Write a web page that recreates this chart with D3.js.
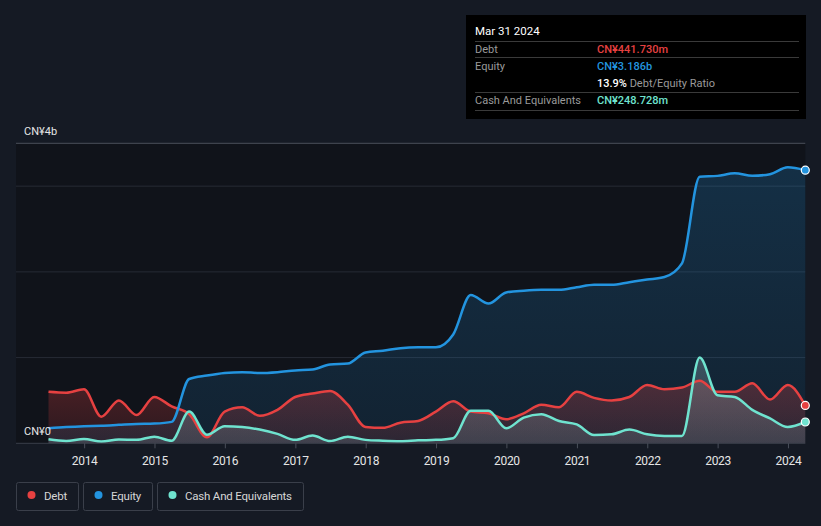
<!DOCTYPE html>
<html><head><meta charset="utf-8">
<script src="https://cdn.jsdelivr.net/npm/d3@7"></script>
<style>
html,body{margin:0;padding:0;background:#151a24;}
svg{display:block;}
</style></head>
<body><svg id="c" width="821" height="526"></svg>
<script>
const dates = ["2013-06-30","2013-09-30","2013-12-31","2014-03-31","2014-06-30","2014-09-30","2014-12-31","2015-03-31","2015-06-30","2015-09-30","2015-12-31","2016-03-31","2016-06-30","2016-09-30","2016-12-31","2017-03-31","2017-06-30","2017-09-30","2017-12-31","2018-03-31","2018-06-30","2018-09-30","2018-12-31","2019-03-31","2019-06-30","2019-09-30","2019-12-31","2020-03-31","2020-06-30","2020-09-30","2020-12-31","2021-03-31","2021-06-30","2021-09-30","2021-12-31","2022-03-31","2022-06-30","2022-09-30","2022-12-31","2023-03-31","2023-06-30","2023-09-30","2023-12-31","2024-03-31"];
// values in CN¥ billions
const debt = [0.60,0.59,0.63,0.31,0.50,0.33,0.54,0.43,0.34,0.07,0.37,0.42,0.32,0.39,0.54,0.58,0.61,0.45,0.19,0.18,0.24,0.26,0.37,0.49,0.37,0.35,0.28,0.35,0.45,0.42,0.60,0.53,0.50,0.54,0.68,0.63,0.65,0.73,0.60,0.60,0.70,0.51,0.68,0.4417];
const equity = [0.175,0.19,0.20,0.205,0.215,0.225,0.23,0.25,0.75,0.79,0.82,0.83,0.82,0.83,0.85,0.86,0.92,0.93,1.06,1.08,1.11,1.12,1.12,1.27,1.73,1.63,1.76,1.78,1.79,1.79,1.82,1.85,1.85,1.88,1.91,1.94,2.10,3.11,3.12,3.15,3.12,3.14,3.22,3.186];
const cash = [0.047,0.027,0.05,0.02,0.045,0.04,0.077,0.03,0.37,0.10,0.20,0.19,0.16,0.11,0.04,0.09,0.027,0.077,0.04,0.03,0.025,0.035,0.04,0.06,0.38,0.38,0.175,0.30,0.34,0.26,0.22,0.097,0.105,0.16,0.105,0.085,0.085,1.00,0.56,0.54,0.39,0.29,0.19,0.2487];
const xTickYears = [2014,2015,2016,2017,2018,2019,2020,2021,2022,2023,2024];
const yGridValues = [1,2,3];
const yTop = 3.5;
const yLabels = [{v:3.5,t:"CN¥4b"},{v:0,t:"CN¥0"}];
const seriesNames = ["Debt","Equity","Cash And Equivalents"];
const seriesColors = ["#e64141","#2394df","#6fe3cf"];
const tipTitle = "Mar 31 2024";
const tipValues = ["CN¥441.730m","CN¥3.186b","CN¥248.728m"];
const ratioText = ["13.9%"," Debt/Equity Ratio"];

const parse = d3.timeParse("%Y-%m-%d");
const D = dates.map(parse);
const svg = d3.select("#c");
const font = "Roboto,sans-serif";

const x = d3.scaleTime().domain([D[0], D[D.length-1]]).range([48.5, 805.3]);
const y = d3.scaleLinear().domain([0, yTop]).range([443.3, 143.3]);
const L = 16, R = 805.3;

// plot background
svg.append("rect").attr("x",L).attr("y",y(yTop)).attr("width",R-L).attr("height",y(0)-y(yTop)).attr("fill","#10131a");

// gridlines
svg.selectAll(".g").data(yGridValues).join("line")
  .attr("x1",L).attr("x2",R).attr("y1",d=>y(d)).attr("y2",d=>y(d))
  .attr("stroke","#262b35").attr("stroke-width",1);
svg.append("line").attr("x1",L).attr("x2",R).attr("y1",y(yTop)).attr("y2",y(yTop)).attr("stroke","#4a4f5a").attr("stroke-width",1);

const defs = svg.append("defs");
function grad(id, color, o1, o2){
  const g = defs.append("linearGradient").attr("id",id).attr("x1",0).attr("x2",0).attr("y1",0).attr("y2",1);
  g.append("stop").attr("offset","0%").attr("stop-color",color).attr("stop-opacity",o1);
  g.append("stop").attr("offset","100%").attr("stop-color",color).attr("stop-opacity",o2);
}
grad("gEq","#2394df",0.22,0.12);
grad("gDebt","#e64141",0.28,0.12);
grad("gCash","#9ab8bf",0.30,0.18);

const series = [debt, equity, cash];
const curve = d3.curveMonotoneX;
const area = vals => d3.area().curve(curve).x((d,i)=>x(D[i])).y0(y(0)).y1(d=>y(d))(vals);
const line = vals => d3.line().curve(curve).x((d,i)=>x(D[i])).y(d=>y(d))(vals);

svg.append("path").attr("d",area(equity)).attr("fill","url(#gEq)");
svg.append("path").attr("d",area(debt)).attr("fill","url(#gDebt)");
svg.append("path").attr("d",area(cash)).attr("fill","url(#gCash)");

svg.append("path").attr("d",line(debt)).attr("fill","none").attr("stroke",seriesColors[0]).attr("stroke-width",2.5);
svg.append("path").attr("d",line(equity)).attr("fill","none").attr("stroke",seriesColors[1]).attr("stroke-width",2.5);
svg.append("path").attr("d",line(cash)).attr("fill","none").attr("stroke",seriesColors[2]).attr("stroke-width",2.5);

// end markers
series.forEach((s,k)=>{
  svg.append("circle").attr("cx",x(D[D.length-1])).attr("cy",y(s[s.length-1])).attr("r",4)
    .attr("fill",seriesColors[k]).attr("stroke","#ffffff").attr("stroke-width",1.2);
});

// x axis
svg.append("line").attr("x1",L).attr("x2",R).attr("y1",y(0)).attr("y2",y(0)).attr("stroke","#3a3f4a").attr("stroke-width",1);
const xa = svg.append("g").attr("transform",`translate(0,${y(0)})`)
  .call(d3.axisBottom(x).tickValues(xTickYears.map(yr=>new Date(yr,0,1))).tickFormat(d3.timeFormat("%Y")).tickSize(5).tickPadding(8));
xa.select(".domain").remove();
xa.selectAll(".tick line").attr("stroke","#4a4f5a");
xa.selectAll(".tick text").attr("fill","#e6e6e6").attr("font-family",font).attr("font-size",12).attr("letter-spacing",-0.3);

// y labels
svg.selectAll(".yl").data(yLabels).join("text")
  .attr("x",24).attr("y",d=>y(d.v)-8).attr("fill","#e6e6e6").attr("font-family","Roboto,sans-serif").attr("font-size",11).text(d=>d.t);

// tooltip
const tip = svg.append("g");
tip.append("rect").attr("x",466).attr("y",15).attr("width",340).attr("height",104).attr("fill","#000000");
const tf = "Roboto,sans-serif";
tip.append("text").attr("x",475).attr("y",35).attr("fill","#ffffff").attr("font-family",tf).attr("font-size",11.5).text(tipTitle);
[41,57,92,110].forEach(yy=>tip.append("line").attr("x1",475).attr("x2",799).attr("y1",yy+0.5).attr("y2",yy+0.5).attr("stroke","#3a3a3a"));
const rowsY = [53,70,104];
const rowNames = ["Debt","Equity","Cash And Equivalents"];
rowNames.forEach((n,i)=>{
  tip.append("text").attr("x",475).attr("y",rowsY[i]).attr("fill","#9a9a9a").attr("font-family",tf).attr("font-size",11).text(n);
  tip.append("text").attr("x",597).attr("y",rowsY[i]).attr("fill",seriesColors[i]).attr("font-family",tf).attr("font-size",11).attr("font-weight",500).text(tipValues[i]);
});
const rt = tip.append("text").attr("x",597).attr("y",87).attr("font-family",tf).attr("font-size",11);
rt.append("tspan").attr("fill","#ffffff").attr("font-weight",500).text(ratioText[0]);
rt.append("tspan").attr("fill","#9a9a9a").text(ratioText[1]);

// legend
const lg = [{x:16,w:62},{x:83,w:69},{x:157,w:146}];
seriesNames.forEach((n,i)=>{
  const g = svg.append("g");
  g.append("rect").attr("x",lg[i].x+0.5).attr("y",482.5).attr("width",lg[i].w).attr("height",28).attr("rx",2)
    .attr("fill","none").attr("stroke","#3a3f4a");
  g.append("circle").attr("cx",lg[i].x+15.5).attr("cy",495).attr("r",4).attr("fill",seriesColors[i]);
  g.append("text").attr("x",lg[i].x+28).attr("y",499.5).attr("fill","#d6d6d6").attr("font-family",font).attr("font-size",11.5).attr("letter-spacing",-0.2).text(n);
});
</script></body></html>
